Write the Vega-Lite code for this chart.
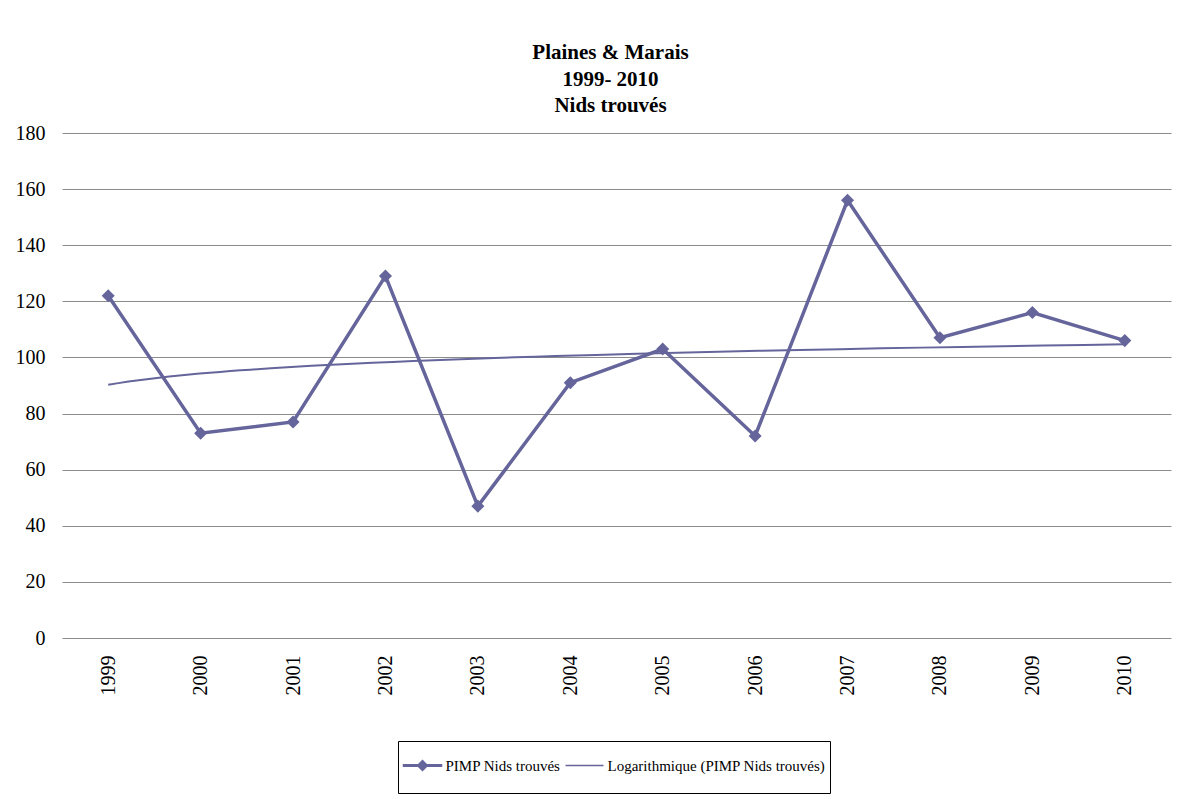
{
  "$schema": "https://vega.github.io/schema/vega-lite/v6.json",
  "width": 1109,
  "height": 505,
  "autosize": "none",
  "padding": {"left": 62, "top": 133, "right": 21, "bottom": 161},
  "background": "white",
  "title": {
    "text": ["Plaines  & Marais", "1999- 2010", "Nids trouvés"],
    "font": "Times New Roman, Liberation Serif, serif",
    "fontSize": 21,
    "fontWeight": 700,
    "lineHeight": 26.5,
    "anchor": "middle",
    "offset": 7,
    "dx": -6,
    "color": "black"
  },
  "config": {
    "view": {"stroke": null},
    "font": "Liberation Serif"
  },
  "data": {
    "values": [
      {"annee": 1999, "i": 1, "v": 122},
      {"annee": 2000, "i": 2, "v": 73},
      {"annee": 2001, "i": 3, "v": 77},
      {"annee": 2002, "i": 4, "v": 129},
      {"annee": 2003, "i": 5, "v": 47},
      {"annee": 2004, "i": 6, "v": 91},
      {"annee": 2005, "i": 7, "v": 103},
      {"annee": 2006, "i": 8, "v": 72},
      {"annee": 2007, "i": 9, "v": 156},
      {"annee": 2008, "i": 10, "v": 107},
      {"annee": 2009, "i": 11, "v": 116},
      {"annee": 2010, "i": 12, "v": 106}
    ]
  },
  "encoding": {
    "x": {
      "field": "i",
      "type": "quantitative",
      "scale": {"domain": [0.5, 12.5], "nice": false, "zero": false},
      "axis": {
        "title": null,
        "values": [1, 2, 3, 4, 5, 6, 7, 8, 9, 10, 11, 12],
        "labelExpr": "datum.value + 1998",
        "labelAngle": -90,
        "labelAlign": "right",
        "labelBaseline": "middle",
        "labelFont": "Liberation Serif",
        "labelFontSize": 20,
        "labelColor": "black",
        "labelPadding": 17,
        "domain": false,
        "ticks": false,
        "grid": false
      }
    },
    "y": {
      "field": "v",
      "type": "quantitative",
      "scale": {"domain": [0, 180], "nice": false},
      "axis": {
        "title": null,
        "values": [0, 20, 40, 60, 80, 100, 120, 140, 160, 180],
        "labelFont": "Liberation Serif",
        "labelFontSize": 20,
        "labelColor": "black",
        "labelPadding": 17,
        "domain": false,
        "ticks": false,
        "grid": true,
        "gridColor": "#8c8c8c",
        "gridWidth": 1
      }
    }
  },
  "layer": [
    {
      "transform": [
        {"regression": "v", "on": "i", "method": "log", "extent": [1, 12]}
      ],
      "mark": {"type": "line", "strokeWidth": 2, "clip": true},
      "encoding": {
        "color": {"datum": "Logarithmique (PIMP Nids trouvés)"}
      }
    },
    {
      "mark": {"type": "line", "strokeWidth": 3.5},
      "encoding": {
        "color": {
          "datum": "PIMP Nids trouvés",
          "scale": {
            "domain": ["PIMP Nids trouvés", "Logarithmique (PIMP Nids trouvés)"],
            "range": ["#65659b", "#65659b"]
          },
          "legend": {
            "title": null,
            "orient": "none",
            "legendX": 336,
            "legendY": 608,
            "direction": "horizontal",
            "strokeColor": "black",
            "fillColor": "white",
            "padding": 4.5,
            "labelFont": "Liberation Serif",
            "labelFontSize": 15,
            "labelColor": "black",
            "labelLimit": 400,
            "symbolSize": 1444,
            "symbolStrokeWidth": 1.5,
            "columnPadding": 1,
            "labelOffset": 3,
            "encode": {
              "symbols": {
                "update": {
                  "shape": {"signal": "datum.value === 'PIMP Nids trouvés' ? 'M-1,-0.04L1,-0.04L1,0.04L-1,0.04ZM0,-0.26L0.26,0L0,0.26L-0.26,0ZM0,-1.05M0,1.05' : 'M-1,0L1,0M0,-1.05M0,1.05'"},
                  "fill": {"signal": "datum.value === 'PIMP Nids trouvés' ? '#65659b' : 'transparent'"}
                }
              }
            }
          }
        }
      }
    },
    {
      "mark": {"type": "point", "shape": "diamond", "filled": true, "size": 170, "opacity": 1, "color": "#65659b"},
      "encoding": {}
    }
  ]
}
